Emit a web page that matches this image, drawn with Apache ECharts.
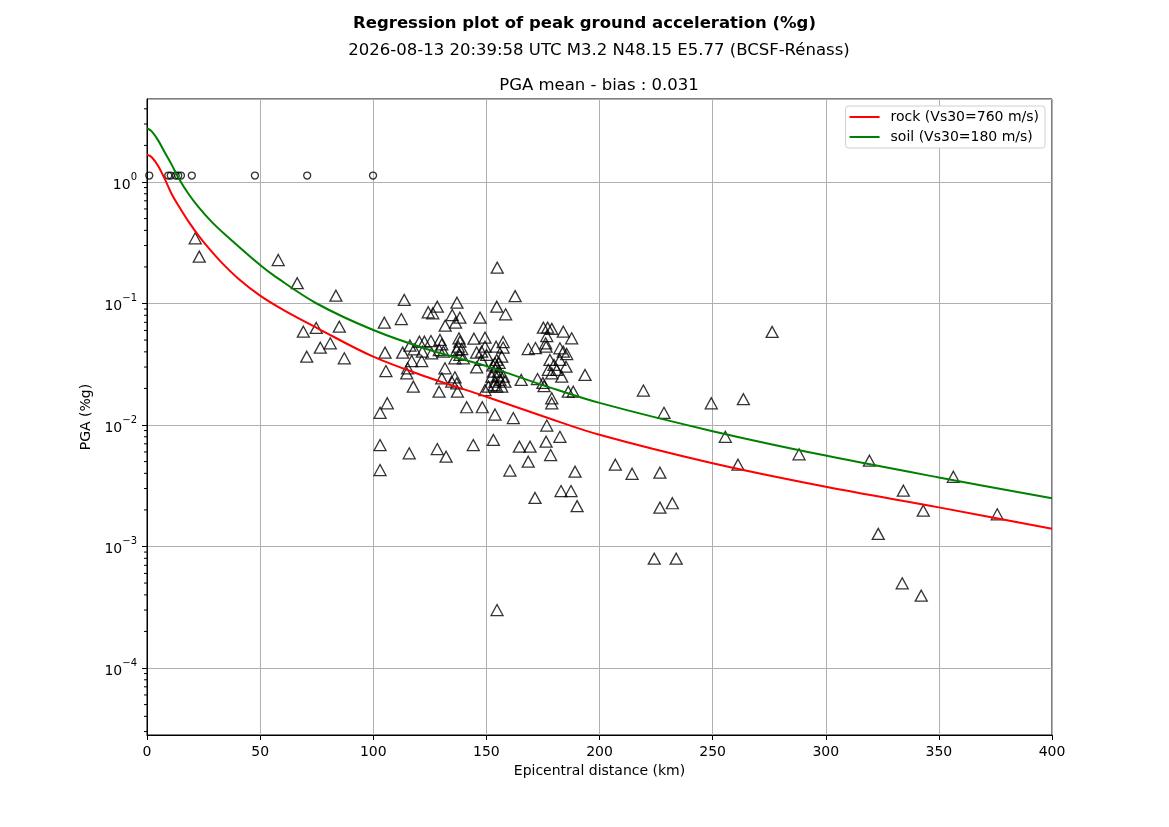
<!DOCTYPE html>
<html>
<head>
<meta charset="UTF-8">
<title>PGA regression</title>
<script src="https://cdn.jsdelivr.net/npm/echarts@6/dist/echarts.min.js"></script>
<style>
html,body{margin:0;padding:0;background:#fff;}
#chart{width:1169px;height:827px;}
</style>
</head>
<body>
<div id="chart"></div>
<script>
// regression curves (distance km, PGA %g)
var rockDist = [0, 2.1, 5, 8, 10.9, 13.8, 18.3, 22.7, 27.1, 33, 40.4, 50, 60, 75, 100, 125, 150, 175, 200, 250, 300, 350, 400];
var rockPga  = [1.68, 1.60, 1.35, 1.045, 0.796, 0.643, 0.474, 0.364, 0.288, 0.217, 0.160, 0.116, 0.0891, 0.0631, 0.0365, 0.0244, 0.0171, 0.0118, 0.0083, 0.00484, 0.0031, 0.0021, 0.0014];
var soilDist = [0, 2.1, 5, 8, 10.9, 13.8, 18.3, 22.7, 28.6, 34.5, 50, 56.6, 75, 100, 125, 150, 175, 200, 250, 300, 350, 400];
var soilPga  = [2.78, 2.61, 2.19, 1.73, 1.39, 1.09, 0.80, 0.625, 0.47, 0.37, 0.207, 0.167, 0.10, 0.0605, 0.0414, 0.0305, 0.0213, 0.0152, 0.0089, 0.0056, 0.0037, 0.0025];

// clipped stations (circles)
var clipDist = [1.0, 9.4, 10.5, 12.7, 13.8, 15.0, 19.8, 47.7, 70.8, 99.9];
var clipPga = 1.13;

// observed stations (triangles): [km, PGA]
var obs = [
  [21.3,0.344],[23.1,0.243],[58.0,0.228],[66.4,0.147],[69.1,0.0586],[70.6,0.0365],[74.8,0.0629],[76.6,0.0433],
  [81.0,0.047],[83.5,0.116],[85.0,0.0644],[87.2,0.0354],
  [103.0,0.00684],[103.0,0.00426],[103.0,0.0126],[104.9,0.0695],[105.2,0.0394],[105.6,0.0278],[106.2,0.0151],
  [112.4,0.0745],[113.0,0.0394],[113.7,0.107],[115.2,0.0293],[114.8,0.0266],[115.9,0.00585],[116.2,0.045],
  [118.1,0.042],[117.7,0.0207],[117.0,0.0336],[120.4,0.0485],
  [121.4,0.0336],[121.7,0.0401],[122.6,0.0485],[124.3,0.0847],[126.3,0.083],[125.5,0.0491],[125.8,0.0389],
  [128.3,0.0941],[128.3,0.00634],[129.1,0.0188],[129.5,0.0501],[130.3,0.0461],[131.0,0.0401],[129.2,0.0414],
  [130.3,0.0242],[131.7,0.0293],[131.8,0.0656],[132.2,0.00548],[134.7,0.0227],[134.9,0.0804],[136.1,0.0247],
  [136.9,0.022],[136.4,0.0695],[137.0,0.1015],[137.2,0.0188],[137.9,0.0517],[138.3,0.0485],[137.6,0.0441],
  [136.9,0.0414],[139.1,0.0422],[139.8,0.0354],[136.1,0.0354],[138.3,0.0377],[138.3,0.0764],
  [141.3,0.014],[144.2,0.00684],[144.5,0.0513],[145.7,0.0395],[147.2,0.0764],[147.8,0.0343],[147.9,0.0401],
  [148.2,0.014],[149.4,0.0523],[149.4,0.0441],[150.1,0.0377],[145.7,0.0298],[149.4,0.0194],[150.9,0.0207],
  [152.4,0.025],[153.1,0.0275],[153.1,0.00753],[153.8,0.0322],[154.6,0.0302],[155.3,0.0275],[153.8,0.0227],
  [156.0,0.0235],[158.2,0.0227],[154.6,0.0207],[156.8,0.0207],[157.5,0.025],[153.8,0.0122],[154.6,0.0941],
  [154.8,0.197],[157.4,0.0482],[154.3,0.0441],[157.4,0.0434],[154.6,0.0343],[156.8,0.0365],[158.5,0.0815],
  [154.7,0.0003],[153.5,0.0213],[155.1,0.0255],[152.9,0.031],[155.6,0.0325],
  [160.4,0.00422],[161.9,0.0114],[162.7,0.115],[164.6,0.00663],[165.4,0.0235],[168.5,0.0422],[168.5,0.00499],
  [169.3,0.00663],[171.7,0.043],[171.5,0.00251],[172.6,0.0239],[175.0,0.0222],[175.5,0.0209],[175.2,0.0632],
  [177.1,0.0632],[178.9,0.0618],[176.7,0.054],[176.4,0.0441],[176.2,0.047],[176.7,0.0099],[176.4,0.00729],
  [178.1,0.0343],[179.9,0.0312],[177.4,0.0284],[178.9,0.0266],[181.1,0.0284],[182.5,0.0343],[183.3,0.025],
  [185.2,0.0302],[182.5,0.0428],[184.0,0.0401],[185.5,0.0384],[184.0,0.0586],[187.7,0.0517],[178.4,0.00566],
  [178.9,0.0166],[178.9,0.0151],[182.5,0.008],[183.0,0.00286],[187.4,0.00286],[186.2,0.0188],[188.4,0.0188],
  [189.2,0.00413],[190.1,0.00215],[193.6,0.0258],
  [207.0,0.00471],[214.4,0.00397],[219.4,0.0192],[224.2,0.000794],[226.7,0.00405],[226.7,0.00209],[228.5,0.0126],
  [232.2,0.00227],[233.9,0.000794],[249.4,0.0151],[255.6,0.008],[261.2,0.00471],[263.6,0.0163],[276.3,0.0583],
  [288.2,0.00574],[319.3,0.00508],[323.2,0.00127],[334.3,0.00288],[333.8,0.000498],[342.2,0.000394],
  [343.1,0.00197],[356.4,0.00375],[375.8,0.00184]
];

var yMin = 2.81e-5, yMax = 4.82;

var FONT = 'DejaVu Sans';

function pairs(xs, ys) {
  return xs.map(function (x, i) { return [x, ys[i]]; });
}

// log minor ticks 2..9 x 10^n
var minorTicks = [];
for (var e = -5; e <= 0; e++) {
  for (var m = 2; m <= 9; m++) {
    var v = m * Math.pow(10, e);
    if (v > yMin && v < yMax) minorTicks.push(v);
  }
}

var chart = echarts.init(document.getElementById('chart'));

var option = {
  animation: false,
  backgroundColor: '#fff',
  textStyle: {fontFamily: FONT},
  title: {
    text: 'Regression plot of peak ground acceleration (%g)',
    left: 'center', top: 10,
    textStyle: {fontFamily: FONT, fontSize: 16.5, fontWeight: 'bold', color: '#000'}
  },
  graphic: [
    {type: 'text', x: 599, y: 51, silent: true,
      style: {text: '2026-08-13 20:39:58 UTC M3.2 N48.15 E5.77 (BCSF-Rénass)', textAlign: 'center', textVerticalAlign: 'middle',
        font: '16.5px "DejaVu Sans"', fill: '#000'}},
    {type: 'text', x: 599, y: 86, silent: true,
      style: {text: 'PGA mean - bias : 0.031', textAlign: 'center', textVerticalAlign: 'middle',
        font: '16.5px "DejaVu Sans"', fill: '#000'}}
  ],
  legend: {
    data: ['rock (Vs30=760 m/s)', 'soil (Vs30=180 m/s)'],
    orient: 'vertical', right: 124, top: 106,
    backgroundColor: '#fff', borderColor: '#d0d0d0', borderWidth: 1, borderRadius: 3,
    padding: [4, 6, 4, 4], itemGap: 6, itemWidth: 30, itemHeight: 2, icon: 'rect',
    textStyle: {fontSize: 14, color: '#000', fontFamily: FONT, padding: [0, 0, 0, 6]}
  },
  grid: {left: 147, right: 117, top: 99, bottom: 92, show: true, borderColor: '#000', borderWidth: 1, backgroundColor: 'transparent'},
  xAxis: {
    type: 'value', min: 0, max: 400, interval: 50,
    name: 'Epicentral distance (km)', nameLocation: 'middle', nameGap: 29,
    nameTextStyle: {fontSize: 14, color: '#000', fontFamily: FONT},
    axisLine: {lineStyle: {color: '#000', width: 1}},
    axisTick: {show: true, length: 5, lineStyle: {color: '#000'}},
    axisLabel: {fontSize: 14, color: '#000', margin: 10, fontFamily: FONT},
    splitLine: {show: true, lineStyle: {color: '#b0b0b0', width: 1}}
  },
  yAxis: {
    type: 'log', logBase: 10, min: yMin, max: yMax,
    name: 'PGA (%g)', nameLocation: 'middle', nameGap: 52,
    nameTextStyle: {fontSize: 14, color: '#000', fontFamily: FONT},
    axisLine: {show: true, lineStyle: {color: '#000', width: 1}},
    axisTick: {show: true, length: 5, lineStyle: {color: '#000'}},
    axisLabel: {
      showMinLabel: false, showMaxLabel: false, margin: 10,
      formatter: function (v) {
        var p = Math.round(Math.log10(v));
        return '{b|10}{s|' + (p < 0 ? '\u2212' + (-p) : p) + '}';
      },
      rich: {
        b: {fontSize: 14, color: '#000', fontFamily: FONT, lineHeight: 20, verticalAlign: 'bottom'},
        s: {fontSize: 10, color: '#000', fontFamily: FONT, lineHeight: 20, verticalAlign: 'top'}
      }
    },
    splitLine: {show: true, lineStyle: {color: '#b0b0b0', width: 1}}
  },
  series: [
    {
      name: 'rock (Vs30=760 m/s)', type: 'line', data: pairs(rockDist, rockPga),
      showSymbol: false, smooth: 0.35, silent: true,
      lineStyle: {color: '#ff0000', width: 2}, itemStyle: {color: '#ff0000'}
    },
    {
      name: 'soil (Vs30=180 m/s)', type: 'line', data: pairs(soilDist, soilPga),
      showSymbol: false, smooth: 0.35, silent: true,
      lineStyle: {color: '#008000', width: 2}, itemStyle: {color: '#008000'}
    },
    {
      name: 'observed', type: 'scatter', data: obs, symbol: 'triangle', symbolSize: [12, 11], silent: true,
      itemStyle: {color: 'rgba(0,0,0,0)', borderColor: '#000', borderWidth: 1.3}
    },
    {
      name: 'clipped', type: 'scatter', data: clipDist.map(function (d) { return [d, clipPga]; }),
      symbol: 'circle', symbolSize: 7, silent: true,
      itemStyle: {color: 'rgba(0,0,0,0)', borderColor: '#000', borderWidth: 1.3}
    },
    {
      // minor ticks of the log axis
      name: 'minor', type: 'custom', clip: false, silent: true,
      data: minorTicks.map(function (t) { return [0, t]; }),
      renderItem: function (params, api) {
        var p = api.coord([0, api.value(1)]);
        return {
          type: 'line',
          shape: {x1: p[0] - 3, y1: p[1], x2: p[0], y2: p[1]},
          style: {stroke: '#000', lineWidth: 1}
        };
      }
    }
  ]
};

chart.setOption(option);
</script>
</body>
</html>
